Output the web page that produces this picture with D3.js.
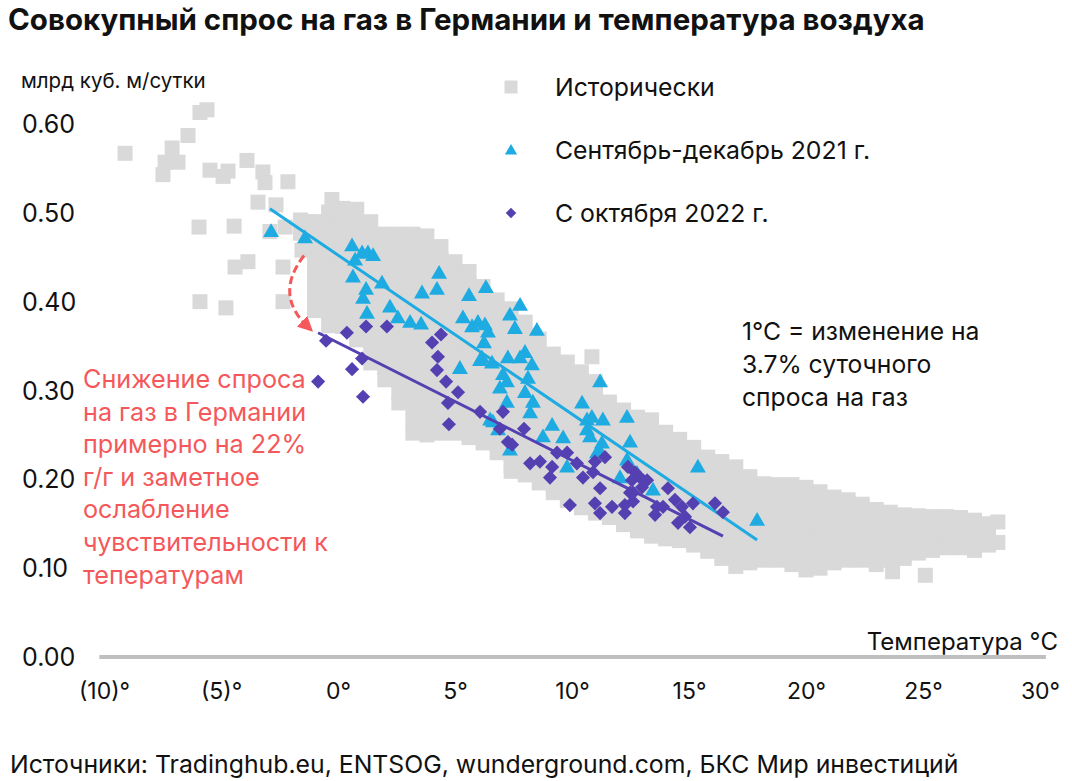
<!DOCTYPE html>
<html><head><meta charset="utf-8">
<script src="https://cdn.jsdelivr.net/npm/d3@7"></script>
<style>
body{margin:0;background:#fff}
text{font-family:Inter,"Liberation Sans",Arial,sans-serif;fill:#111}
</style>
</head><body>
<svg id="chart" width="1072" height="781"></svg>
<script>
// ---------- DATA ----------
const xTicks = [-10,-5,0,5,10,15,20,25,30];
const xTickLabels = ["(10)°","(5)°","0°","5°","10°","15°","20°","25°","30°"];
const yTicks = [0,0.1,0.2,0.3,0.4,0.5,0.6];
const yTickLabels = ["0.00","0.10","0.20","0.30","0.40","0.50","0.60"];

// Historical: [temperature °C, [daily demand, bcm/day ...]] columns
const historicalColumns = [
[-1.6,[0.492,0.477]],
[-1.0,[0.49,0.477,0.462,0.447,0.432,0.418,0.404,0.39]],
[-0.4,[0.501,0.486,0.471,0.456,0.441,0.426,0.411,0.397,0.384,0.373]],
[0.2,[0.505,0.49,0.475,0.46,0.445,0.43,0.415,0.4,0.385,0.372]],
[0.8,[0.504,0.489,0.474,0.459,0.444,0.429,0.414,0.399,0.384,0.37,0.357]],
[1.4,[0.49,0.475,0.46,0.445,0.43,0.415,0.4,0.385,0.37,0.355,0.342,0.331]],
[2.0,[0.476,0.461,0.446,0.431,0.416,0.401,0.386,0.371,0.356,0.341,0.326,0.312]],
[2.6,[0.476,0.461,0.446,0.431,0.416,0.401,0.386,0.371,0.356,0.341,0.326,0.311,0.298,0.286]],
[3.2,[0.476,0.461,0.446,0.431,0.416,0.401,0.386,0.371,0.356,0.341,0.326,0.311,0.296,0.281,0.266,0.252]],
[3.8,[0.474,0.459,0.444,0.429,0.414,0.399,0.384,0.369,0.354,0.339,0.324,0.309,0.294,0.279,0.264,0.25]],
[4.4,[0.462,0.447,0.432,0.417,0.402,0.387,0.372,0.357,0.342,0.327,0.312,0.297,0.282,0.267,0.252]],
[5.0,[0.445,0.43,0.415,0.4,0.385,0.37,0.355,0.34,0.325,0.31,0.295,0.28,0.265,0.252]],
[5.6,[0.434,0.419,0.404,0.389,0.374,0.359,0.344,0.329,0.314,0.299,0.284,0.269,0.256,0.247]],
[6.2,[0.417,0.402,0.387,0.372,0.357,0.342,0.327,0.312,0.297,0.282,0.267,0.254,0.241]],
[6.8,[0.402,0.387,0.372,0.357,0.342,0.327,0.312,0.297,0.282,0.267,0.252,0.24,0.23]],
[7.4,[0.392,0.377,0.362,0.347,0.332,0.317,0.302,0.287,0.272,0.257,0.242,0.227,0.215,0.209]],
[8.0,[0.377,0.362,0.347,0.332,0.317,0.302,0.287,0.272,0.257,0.242,0.227,0.214,0.205]],
[8.6,[0.358,0.343,0.328,0.313,0.298,0.283,0.268,0.253,0.238,0.223,0.209,0.196]],
[9.2,[0.341,0.326,0.311,0.296,0.281,0.266,0.251,0.236,0.221,0.206,0.195,0.185]],
[9.8,[0.332,0.317,0.302,0.287,0.272,0.257,0.242,0.227,0.212,0.197,0.186,0.176]],
[10.4,[0.321,0.306,0.291,0.276,0.261,0.246,0.231,0.216,0.201,0.186,0.176,0.168]],
[10.85,[0.338]],
[11.0,[0.31,0.295,0.28,0.265,0.25,0.235,0.22,0.205,0.19,0.176,0.162]],
[11.6,[0.287,0.272,0.257,0.242,0.227,0.212,0.197,0.182,0.168,0.157]],
[12.2,[0.278,0.263,0.248,0.233,0.218,0.203,0.188,0.173,0.16,0.149]],
[12.8,[0.27,0.255,0.24,0.225,0.21,0.195,0.18,0.166,0.153,0.142]],
[13.4,[0.267,0.252,0.237,0.222,0.207,0.192,0.177,0.162,0.148,0.136]],
[14.0,[0.253,0.238,0.223,0.208,0.193,0.178,0.163,0.148,0.133]],
[14.6,[0.245,0.23,0.215,0.2,0.185,0.17,0.156,0.143,0.131]],
[15.2,[0.236,0.221,0.206,0.191,0.176,0.162,0.149,0.137,0.126]],
[15.8,[0.225,0.21,0.195,0.18,0.166,0.152,0.139,0.128,0.119]],
[16.4,[0.22,0.205,0.19,0.175,0.16,0.146,0.133,0.121,0.111]],
[17.0,[0.214,0.199,0.184,0.169,0.154,0.14,0.127,0.114,0.102]],
[17.6,[0.203,0.188,0.173,0.158,0.144,0.131,0.118,0.106]],
[18.2,[0.195,0.18,0.165,0.15,0.136,0.122,0.109]],
[18.8,[0.194,0.179,0.164,0.149,0.135,0.121,0.109]],
[19.4,[0.194,0.179,0.164,0.149,0.134,0.119,0.104]],
[20.0,[0.191,0.176,0.161,0.146,0.131,0.116,0.104,0.098]],
[20.6,[0.186,0.171,0.156,0.141,0.127,0.113,0.1]],
[21.2,[0.18,0.165,0.15,0.136,0.121,0.106]],
[21.8,[0.177,0.162,0.147,0.133,0.12,0.109]],
[22.4,[0.172,0.157,0.143,0.129,0.118,0.109]],
[23.0,[0.166,0.152,0.138,0.124,0.112,0.104]],
[23.6,[0.163,0.149,0.135,0.121,0.109]],
[24.2,[0.16,0.146,0.132,0.12,0.111]],
[24.8,[0.159,0.145,0.131,0.117]],
[25.4,[0.158,0.144,0.131,0.12]],
[26.0,[0.158,0.144,0.132,0.123]],
[26.6,[0.157,0.143,0.131,0.123]],
[27.2,[0.154,0.141,0.13,0.12]],
[27.8,[0.15,0.138,0.126]],
[28.2,[0.152,0.129]]
];
const historicalOutliers = [
[-5.90,0.613],[-5.60,0.616],[-6.41,0.587],[-9.10,0.567],[-7.09,0.573],[-7.39,0.557],
[-6.84,0.557],[-7.48,0.543],[-5.47,0.548],[-4.70,0.547],[-4.91,0.541],[-3.89,0.559],
[-3.21,0.546],[-3.12,0.534],[-2.14,0.535],[-3.42,0.512],[-2.65,0.509],[-0.26,0.515],
[-5.94,0.484],[-4.44,0.485],[-2.91,0.479],[-2.26,0.484],[-1.20,0.490],[-4.40,0.439],
[-3.85,0.445],[-2.35,0.439],[-5.90,0.400],[-4.79,0.393],[-2.35,0.400],[-1.54,0.458],
[23.7,0.096],[25.1,0.092]
];
// Sept–Dec 2021: [temperature, demand]
const sepDec2021 = [
[-2.86,0.479],[-1.41,0.472],[0.60,0.463],[1.03,0.455],[1.28,0.455],[1.50,0.452],[0.73,0.447],
[0.64,0.428],[1.88,0.421],[1.20,0.414],[1.07,0.404],[1.24,0.387],[2.22,0.394],[2.56,0.382],
[3.08,0.377],[3.55,0.375],[3.59,0.410],[4.23,0.414],[4.32,0.432],[5.60,0.407],[6.32,0.416],
[5.34,0.382],[5.73,0.372],[5.98,0.377],[6.28,0.374],[6.41,0.366],[6.24,0.354],[6.15,0.337],
[6.58,0.331],[7.35,0.385],[7.78,0.396],[8.50,0.368],[7.26,0.337],[7.78,0.337],[7.99,0.343],
[8.29,0.329],[5.21,0.325],[7.05,0.318],[7.22,0.310],[6.92,0.303],[8.12,0.314],[7.99,0.298],
[7.22,0.287],[8.33,0.287],[8.21,0.275],[10.43,0.286],[11.20,0.310],[9.15,0.261],[10.64,0.267],
[10.85,0.270],[11.32,0.267],[10.64,0.256],[10.77,0.248],[8.76,0.248],[9.62,0.247],[11.28,0.241],
[11.20,0.231],[11.07,0.230],[12.35,0.270],[12.48,0.242],[7.35,0.233],[6.84,0.256],[6.50,0.267],
[9.79,0.214],[12.05,0.202],[13.46,0.188],[12.78,0.207],[15.38,0.214],[17.91,0.154],[6.62,0.265],
[12.35,0.222],[7.56,0.370],[6.07,0.334]
];
// Since Oct 2022: [temperature, demand]
const sinceOct2022 = [
[-0.51,0.356],[0.38,0.365],[1.20,0.372],[2.09,0.372],[1.03,0.336],[0.60,0.324],[-0.85,0.310],
[1.07,0.293],[4.02,0.354],[4.40,0.363],[4.27,0.338],[4.23,0.323],[4.62,0.310],[5.13,0.298],
[4.70,0.286],[4.74,0.262],[6.07,0.276],[7.05,0.276],[6.92,0.257],[7.26,0.242],[7.44,0.239],
[7.95,0.257],[8.21,0.218],[8.63,0.220],[9.15,0.214],[9.06,0.202],[9.36,0.230],[9.79,0.230],
[10.21,0.218],[10.47,0.202],[10.98,0.220],[10.90,0.208],[11.41,0.225],[11.20,0.190],[12.39,0.214],
[12.69,0.208],[12.56,0.199],[13.03,0.199],[12.99,0.191],[12.61,0.185],[9.91,0.171],[10.98,0.173],
[11.20,0.162],[11.71,0.169],[12.26,0.171],[12.26,0.162],[12.61,0.175],[12.48,0.185],[13.63,0.169],
[13.55,0.160],[13.89,0.169],[14.10,0.190],[14.40,0.177],[14.70,0.169],[14.53,0.151],[15.04,0.146],
[14.83,0.158],[15.17,0.173],[16.11,0.173],[16.45,0.163],[12.91,0.202],[13.21,0.199]
];
const trend2021 = [[-2.91,0.5045],[17.91,0.1318]];
const trend2022 = [[-0.85,0.365],[16.45,0.136]];
const arrowPath = [[-1.45,0.452],[-2.75,0.408],[-1.30,0.372]]; // start, control, end

const legendItems = ["Исторически","Сентябрь-декабрь 2021 г.","С октября 2022 г."];
const noteLines = ["1°C = изменение на","3.7% суточного","спроса на газ"];
const redLines = ["Снижение спроса","на газ в Германии","примерно на 22%","г/г и заметное","ослабление","чувствительности к","теператураm".replace("m","м")];

// ---------- CHART ----------
const colGray="#d9d9d9", colBlue="#1eabe2", colPurple="#5540b2", colRed="#f4585a";
const svg=d3.select("#chart");
const x=d3.scaleLinear().domain([-10,30]).range([104,1040]);
const y=d3.scaleLinear().domain([0,0.6]).range([657,124]);

svg.append("text").attr("x",8).attr("y",30).attr("font-size",29.5).attr("font-weight",700)
  .text("Совокупный спрос на газ в Германии и температура воздуха");
svg.append("text").attr("x",21).attr("y",88).attr("font-size",20.5).text("млрд куб. м/сутки");

// y tick labels
svg.append("g").selectAll("text").data(yTicks).join("text")
  .attr("x",22).attr("y",d=>y(d)+9).attr("font-size",25)
  .text((d,i)=>yTickLabels[i]);

// x axis
const xAxis=d3.axisBottom(x).tickValues(xTicks).tickFormat((d,i)=>xTickLabels[i]).tickSize(0).tickPadding(0);
const gx=svg.append("g").attr("transform","translate(0,683)").call(xAxis);
gx.select(".domain").remove();
gx.selectAll("text").attr("font-size",23).attr("fill","#111").attr("dy","0.71em")
  .style("font-family",'Inter,"Liberation Sans",Arial,sans-serif');
svg.append("line").attr("x1",x(-10.2)).attr("x2",x(30.25)).attr("y1",y(0)).attr("y2",y(0))
  .attr("stroke","#bfbfbf").attr("stroke-width",4);
svg.append("text").attr("x",1058).attr("y",650).attr("text-anchor","end").attr("font-size",24).text("Температура °C");

// historical squares
const hist=[];
historicalColumns.forEach(([t,ds])=>ds.forEach(d=>hist.push([t,d])));
historicalOutliers.forEach(p=>hist.push(p));
const sq=15;
svg.append("g").selectAll("rect").data(hist).join("rect")
  .attr("x",d=>x(d[0])-sq/2).attr("y",d=>y(d[1])-sq/2).attr("width",sq).attr("height",sq)
  .attr("fill",colGray);

// triangles
const tri=d3.symbol().type(d3.symbolTriangle).size(110);
svg.append("g").selectAll("path").data(sepDec2021).join("path")
  .attr("d",tri).attr("transform",d=>`translate(${x(d[0])},${y(d[1])+1})`).attr("fill",colBlue);

const line=d3.line().x(d=>x(d[0])).y(d=>y(d[1]));
svg.append("path").datum(trend2021).attr("d",line).attr("stroke",colBlue).attr("stroke-width",3).attr("fill","none");

// diamonds
const dia=d3.symbol().type(d3.symbolSquare).size(100);
svg.append("g").selectAll("path").data(sinceOct2022).join("path")
  .attr("d",dia).attr("transform",d=>`translate(${x(d[0])},${y(d[1])}) rotate(45)`).attr("fill",colPurple);
svg.append("path").datum(trend2022).attr("d",line).attr("stroke",colPurple).attr("stroke-width",3).attr("fill","none");

// red dashed arrow
const defs=svg.append("defs");
defs.append("marker").attr("id","ah").attr("viewBox","0 0 10 10").attr("refX",5).attr("refY",5)
  .attr("markerWidth",15).attr("markerHeight",15).attr("markerUnits","userSpaceOnUse").attr("orient","auto")
  .append("path").attr("d","M0,0 L10,5 L0,10 z").attr("fill",colRed);
const [a0,a1,a2]=arrowPath;
svg.append("path").attr("d",`M${x(a0[0])},${y(a0[1])} Q${x(a1[0])},${y(a1[1])} ${x(a2[0])},${y(a2[1])}`)
  .attr("fill","none").attr("stroke",colRed).attr("stroke-width",3).attr("stroke-dasharray","8,4")
  .attr("marker-end","url(#ah)");

// legend
const lg=svg.append("g");
const ly=[87,150,213];
lg.append("rect").attr("x",511-6.5).attr("y",ly[0]-6.5).attr("width",13).attr("height",13).attr("fill",colGray);
lg.append("path").attr("d",d3.symbol().type(d3.symbolTriangle).size(65)).attr("transform",`translate(511,${ly[1]+1})`).attr("fill",colBlue);
lg.append("path").attr("d",d3.symbol().type(d3.symbolSquare).size(55)).attr("transform",`translate(511,${ly[2]}) rotate(45)`).attr("fill",colPurple);
lg.selectAll("text").data(legendItems).join("text").attr("x",555).attr("y",(d,i)=>ly[i]+9).attr("font-size",24.8).text(d=>d);

// notes
svg.append("g").selectAll("text").data(noteLines).join("text").attr("x",742).attr("y",(d,i)=>340+i*33)
  .attr("font-size",24.7).text(d=>d);
svg.append("g").selectAll("text").data(redLines).join("text").attr("x",83).attr("y",(d,i)=>388+i*32.6)
  .attr("font-size",25.2).style("fill",colRed).text(d=>d);

svg.append("text").attr("x",10).attr("y",773).attr("font-size",24.8)
  .text("Источники: Tradinghub.eu, ENTSOG, wunderground.com, БКС Мир инвестиций");
</script>
</body></html>
